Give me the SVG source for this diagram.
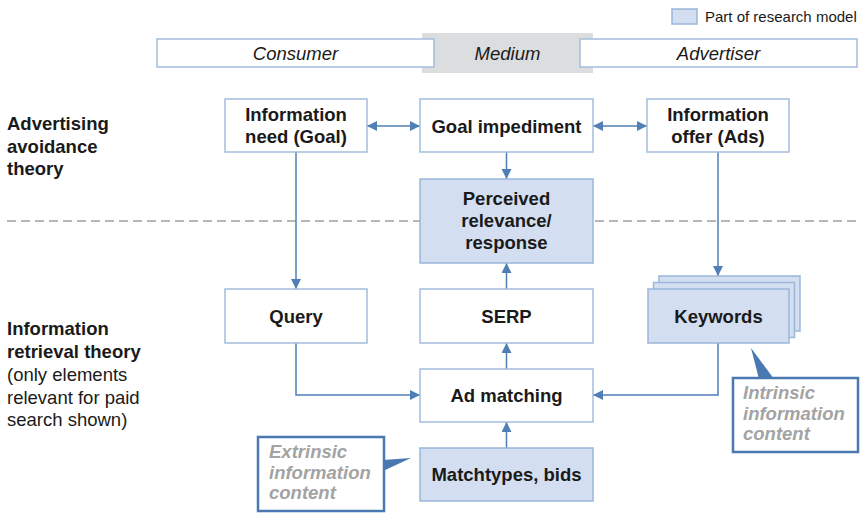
<svg xmlns="http://www.w3.org/2000/svg" width="862" height="519" viewBox="0 0 862 519">
<defs>
<style>
text{font-family:"Liberation Sans",Arial,sans-serif;fill:#1a1a1a}
.b{font-weight:bold;font-size:18.5px}
.c{text-anchor:middle}
.r{font-size:18.5px}
.i{font-style:italic;font-size:18.5px}
.box{fill:#ffffff;stroke:#a3bddd;stroke-width:1.5}
.hl{fill:#d3dff0;stroke:#9bb6d9;stroke-width:1.5}
.hdr{fill:#ffffff;stroke:#a3bddd;stroke-width:1.5}
.con{fill:none;stroke:#4f7fb5;stroke-width:1.5}
.call{fill:#ffffff;stroke:#4a78b0;stroke-width:2.5}
.ct{font-weight:bold;font-style:italic;font-size:18.5px;fill:#a3a3a3}
</style>
<marker id="ah" viewBox="0 0 10 10" refX="10" refY="5" markerWidth="10" markerHeight="10" markerUnits="userSpaceOnUse" orient="auto-start-reverse">
<path d="M0,0 L10,5 L0,10 z" fill="#4f7fb5"/>
</marker>
</defs>
<rect width="862" height="519" fill="#ffffff"/>

<g id="legend">
<rect x="672" y="9" width="25" height="15" class="hl"/>
<text x="705" y="22" style="font-size:15px">Part of research model</text>
</g>

<g id="header-medium">
<rect x="422" y="33" width="171" height="40" fill="#dcdddf"/>
<text x="507.5" y="59.5" class="i c">Medium</text>
</g>
<g id="header-consumer">
<rect x="157" y="39" width="277" height="28" class="hdr"/>
<text x="295.5" y="59.5" class="i c">Consumer</text>
</g>
<g id="header-advertiser">
<rect x="580" y="39" width="277" height="28" class="hdr"/>
<text x="718.5" y="59.5" class="i c">Advertiser</text>
</g>

<g id="label-avoidance">
<text x="7" y="130" class="b">Advertising</text>
<text x="7" y="152.5" class="b">avoidance</text>
<text x="7" y="175" class="b">theory</text>
</g>
<g id="label-retrieval">
<text x="7" y="335" class="b">Information</text>
<text x="7" y="358" class="b">retrieval theory</text>
<text x="7" y="381" class="r">(only elements</text>
<text x="7" y="403.5" class="r">relevant for paid</text>
<text x="7" y="426" class="r">search shown)</text>
</g>

<line id="divider" x1="7" y1="221" x2="856" y2="221" stroke="#a0a0a0" stroke-width="1.5" stroke-dasharray="9 5"/>

<g id="connectors">
<line x1="367" y1="126" x2="420" y2="126" class="con" marker-start="url(#ah)" marker-end="url(#ah)"/>
<line x1="593" y1="126" x2="647" y2="126" class="con" marker-start="url(#ah)" marker-end="url(#ah)"/>
<line x1="506.5" y1="152" x2="506.5" y2="179" class="con" marker-end="url(#ah)"/>
<line x1="296" y1="152" x2="296" y2="289" class="con" marker-end="url(#ah)"/>
<line x1="718" y1="152" x2="718" y2="276" class="con" marker-end="url(#ah)"/>
<line x1="506.5" y1="289" x2="506.5" y2="263" class="con" marker-end="url(#ah)"/>
<line x1="506.5" y1="369" x2="506.5" y2="343" class="con" marker-end="url(#ah)"/>
<line x1="506.5" y1="448" x2="506.5" y2="422" class="con" marker-end="url(#ah)"/>
<polyline points="296,343 296,395 420,395" class="con" marker-end="url(#ah)"/>
<polyline points="718,343 718,395 593,395" class="con" marker-end="url(#ah)"/>
</g>

<g id="info-need">
<rect x="225" y="99" width="142" height="53" class="box"/>
<text x="296" y="121" class="b c">Information</text>
<text x="296" y="143" class="b c">need (Goal)</text>
</g>
<g id="goal-impediment">
<rect x="420" y="99" width="173" height="53" class="box"/>
<text x="506.5" y="132.5" class="b c">Goal impediment</text>
</g>
<g id="info-offer">
<rect x="647" y="99" width="142" height="53" class="box"/>
<text x="718" y="121" class="b c">Information</text>
<text x="718" y="143" class="b c">offer (Ads)</text>
</g>
<g id="perceived-relevance">
<rect x="420" y="179" width="173" height="84" class="hl"/>
<text x="506.5" y="205" class="b c">Perceived</text>
<text x="506.5" y="227" class="b c">relevance/</text>
<text x="506.5" y="249" class="b c">response</text>
</g>
<g id="query">
<rect x="225" y="289" width="142" height="54" class="box"/>
<text x="296" y="322.5" class="b c">Query</text>
</g>
<g id="serp">
<rect x="420" y="289" width="173" height="54" class="box"/>
<text x="506.5" y="322.5" class="b c">SERP</text>
</g>
<g id="keywords">
<rect x="659" y="276" width="141" height="55" class="hl"/>
<rect x="653.5" y="282.5" width="141" height="55" class="hl"/>
<rect x="648" y="289" width="141" height="54" class="hl"/>
<text x="718.5" y="322.5" class="b c">Keywords</text>
</g>
<g id="ad-matching">
<rect x="420" y="369" width="173" height="53" class="box"/>
<text x="506.5" y="402" class="b c">Ad matching</text>
</g>
<g id="matchtypes">
<rect x="420" y="448" width="173" height="53" class="hl"/>
<text x="506.5" y="481" class="b c">Matchtypes, bids</text>
</g>

<g id="callout-intrinsic">
<rect x="733" y="378" width="125" height="74" class="call"/>
<polygon points="751,348 774,379 759,379" fill="#4a78b0"/>
<text x="743" y="399" class="ct">Intrinsic</text>
<text x="743" y="420" class="ct">information</text>
<text x="743" y="440" class="ct">content</text>
</g>
<g id="callout-extrinsic">
<rect x="258" y="437" width="126" height="74" class="call"/>
<polygon points="383,460 411,458 383,471" fill="#4a78b0"/>
<text x="269" y="458" class="ct">Extrinsic</text>
<text x="269" y="478.5" class="ct">information</text>
<text x="269" y="499" class="ct">content</text>
</g>
</svg>
